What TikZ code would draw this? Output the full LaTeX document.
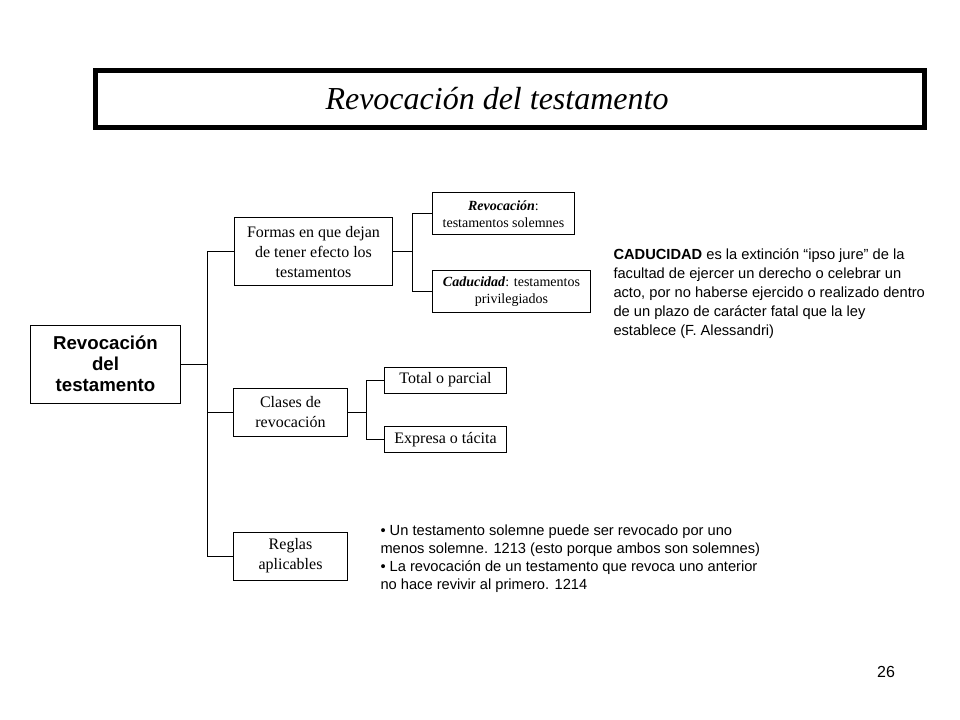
\documentclass[tikz,border=0pt]{standalone}
\usepackage{fontspec}
\setmainfont{Liberation Serif}
\setsansfont{Liberation Sans}
\begin{document}
\begin{tikzpicture}[
  x=0.75pt, y=-0.75pt,
  line width=0.75pt,
  headbox/.style={draw, line width=3.75pt, minimum width=621.75pt, minimum height=42.75pt,
    font=\fontsize{24}{28}\selectfont\itshape},
  rootbox/.style={draw, align=center, inner sep=0pt, minimum width=113pt, minimum height=58.5pt,
    font=\sffamily\bfseries\fontsize{14}{15.75}\selectfont},
  box/.style={draw, align=center, inner sep=0pt, font=\fontsize{12}{15}\selectfont},
  leaf/.style={draw, align=center, inner sep=0pt, font=\fontsize{10.5}{13}\selectfont},
  note/.style={anchor=north west, align=left, inner sep=0pt, font=\sffamily\fontsize{11}{14.25}\selectfont},
]
  \useasboundingbox (0,0) rectangle (960,720);

  % title
  \node[headbox] (title) at (510,99) {Revocación del testamento\hspace*{19.5pt}};

  % root and first level
  \node[rootbox] (root) at (105.5,364) {Revocación\\del\\testamento};
  \node[box, minimum width=119pt, minimum height=51pt] (formas) at (313.5,252)
    {Formas en que dejan\\de tener efecto los\\testamentos};
  \node[box, minimum width=85pt, minimum height=36pt] (clases) at (290.5,412)
    {Clases de\\revocación};
  \node[box, minimum width=86pt, minimum height=36pt] (reglas) at (290.5,556)
    {Reglas\\aplicables};

  % second level
  \node[leaf, minimum width=107pt, minimum height=31.5pt] (revoc) at (503.5,214)
    {\textbf{\textit{Revocación}}:\\testamentos solemnes};
  \node[leaf, minimum width=119pt, minimum height=32pt] (caduc) at (511.5,291.5)
    {\textbf{\textit{Caducidad}}: testamentos\\privilegiados};
  \node[box, minimum width=91pt, minimum height=19.5pt] (total) at (445.5,380) {Total o parcial};
  \node[box, minimum width=91pt, minimum height=20pt] (expresa) at (445.5,439.5) {Expresa o tácita};

  % connectors
  \coordinate (trunk) at (207,364);
  \coordinate (fsplit) at (412,252);
  \coordinate (csplit) at (366,412);
  \draw (root.east) -- (trunk);
  \draw (trunk) |- (formas.west);
  \draw (trunk) |- (clases.west);
  \draw (trunk) |- (reglas.west);
  \draw (formas.east) -- (fsplit);
  \draw (fsplit) |- (revoc.west);
  \draw (fsplit) |- (caduc.west);
  \draw (clases.east) -- (csplit);
  \draw (csplit) |- (total.west);
  \draw (csplit) |- (expresa.west);

  % notes
  \node[note] (defcad) at (613,248)
    {\textbf{CADUCIDAD} es la extinción “ipso jure” de la\\
     facultad de ejercer un derecho o celebrar un\\
     acto, por no haberse ejercido o realizado dentro\\
     de un plazo de carácter fatal que la ley\\
     establece (F. Alessandri)};
  \node[note, font=\sffamily\fontsize{11}{13.5}\selectfont] (rules) at (380,524)
    {• Un testamento solemne puede ser revocado por uno\\
     menos solemne. 1213 (esto porque ambos son solemnes)\\
     • La revocación de un testamento que revoca uno anterior\\
     no hace revivir al primero. 1214};

  % page number
  \node[font=\sffamily\fontsize{12}{14}\selectfont] (page) at (886,672) {26};
\end{tikzpicture}
\end{document}
